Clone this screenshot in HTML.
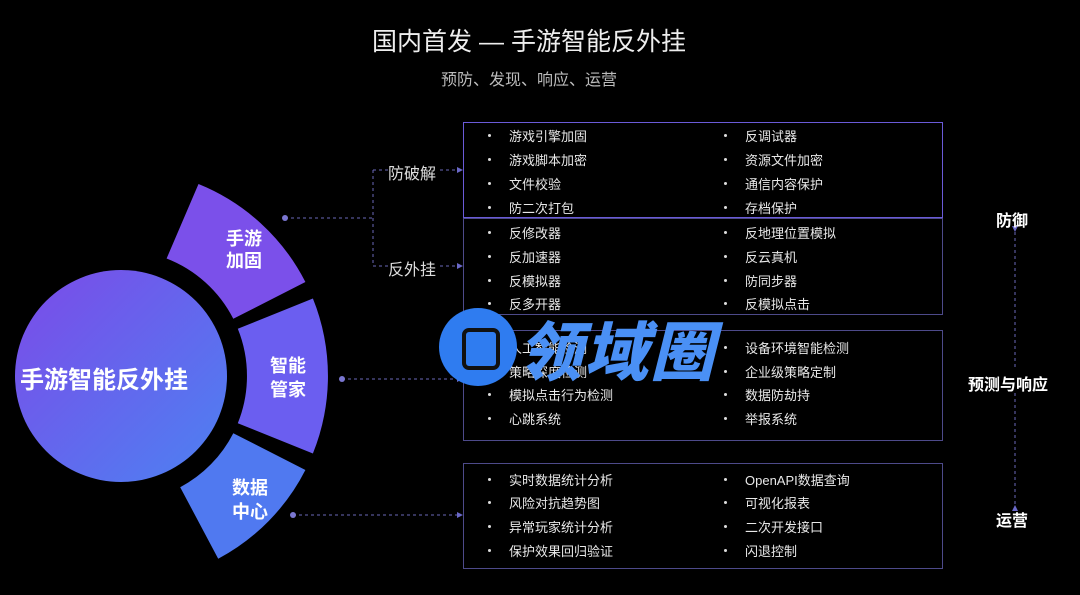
<!DOCTYPE html>
<html><head><meta charset="utf-8"><style>
body{margin:0;width:1080px;height:595px;background:#000;overflow:hidden;font-family:"Liberation Sans","Noto Sans CJK SC",sans-serif;color:#fff;position:relative}
.t{position:absolute;white-space:nowrap}
.box{position:absolute;left:463px;width:478px;border:1.5px solid #4d4a8a}
.it{position:absolute;font-size:13px;color:#e8e8e8;white-space:nowrap}
.it:before{content:"";position:absolute;left:-21px;top:8px;width:3px;height:3px;border-radius:50%;background:#ddd}
</style></head><body>
<div class="t" style="left:0;width:1058px;text-align:center;top:22px;font-size:25px;color:#eee">国内首发 — 手游智能反外挂</div>
<div class="t" style="left:0;width:1058px;text-align:center;top:66px;font-size:16px;color:#bbb">预防、发现、响应、运营</div>

<svg width="1080" height="595" style="position:absolute;left:0;top:0">
<defs>
<linearGradient id="g" x1="0" y1="0" x2="1" y2="1"><stop offset="0" stop-color="#7c4ae8"/><stop offset="1" stop-color="#4c82f2"/></linearGradient>
</defs>
<circle cx="121" cy="376" r="106" fill="url(#g)"/>
<g transform="translate(121,376)">
<path d="M45.6,-117.5 A126,126 0 0 1 112.3,-57.2 L184.4,-94 A207,207 0 0 0 77.5,-192 Z" fill="#7b50ea"/>
<path d="M116.8,-47.2 A126,126 0 0 1 116.8,47.2 L191.9,77.5 A207,207 0 0 0 191.9,-77.5 Z" fill="#6b5ef0"/>
<path d="M112.3,57.2 A126,126 0 0 1 59.2,111.2 L97.2,182.8 A207,207 0 0 0 184.4,94 Z" fill="#5079f0"/>
</g>
<g stroke="#6a68b8" stroke-width="1" stroke-dasharray="3,3" fill="none">
<path d="M285,218 H373 M373,170 V266 M373,170 H388 M373,266 H388 M440,170 H462 M440,266 H462 M342,379 H462 M293,515 H462 M1015,232 V370 M1015,393 V505"/>
</g>
<g fill="#7a76d0"><circle cx="285" cy="218" r="3"/><circle cx="342" cy="379" r="3"/><circle cx="293" cy="515" r="3"/></g>
<g fill="#6a68c8"><path d="M463,170 l-6,-3 v6z M463,266 l-6,-3 v6z M463,379 l-6,-3 v6z M463,515 l-6,-3 v6z M1015,232 l-3,-6 h6z M1015,505 l-3,6 h6z"/></g>
</svg>

<div class="t" style="left:20px;top:360px;font-size:24px;font-weight:bold">手游智能反外挂</div>
<div class="t" style="left:226px;top:228px;font-size:18px;font-weight:bold;line-height:22px;text-align:center">手游<br>加固</div>
<div class="t" style="left:270px;top:354px;font-size:18px;font-weight:bold;line-height:24px;text-align:center">智能<br>管家</div>
<div class="t" style="left:232px;top:476px;font-size:18px;font-weight:bold;line-height:24px;text-align:center">数据<br>中心</div>
<div class="t" style="left:388px;top:160px;font-size:16px;color:#ddd">防破解</div>
<div class="t" style="left:388px;top:256px;font-size:16px;color:#ddd">反外挂</div>

<div class="box" style="top:122px;height:94px;border-color:#6a5ad8"></div>
<div class="box" style="top:218px;height:95px"></div>
<div class="box" style="top:330px;height:109px"></div>
<div class="box" style="top:463px;height:104px"></div>

<div class="it" style="left:509px;top:126px">游戏引擎加固</div><div class="it" style="left:745px;top:126px">反调试器</div>
<div class="it" style="left:509px;top:150px">游戏脚本加密</div><div class="it" style="left:745px;top:150px">资源文件加密</div>
<div class="it" style="left:509px;top:174px">文件校验</div><div class="it" style="left:745px;top:174px">通信内容保护</div>
<div class="it" style="left:509px;top:198px">防二次打包</div><div class="it" style="left:745px;top:198px">存档保护</div>
<div class="it" style="left:509px;top:223px">反修改器</div><div class="it" style="left:745px;top:223px">反地理位置模拟</div>
<div class="it" style="left:509px;top:247px">反加速器</div><div class="it" style="left:745px;top:247px">反云真机</div>
<div class="it" style="left:509px;top:271px">反模拟器</div><div class="it" style="left:745px;top:271px">防同步器</div>
<div class="it" style="left:509px;top:294px">反多开器</div><div class="it" style="left:745px;top:294px">反模拟点击</div>
<div class="it" style="left:509px;top:338px">人工智能检测</div><div class="it" style="left:745px;top:338px">设备环境智能检测</div>
<div class="it" style="left:509px;top:362px">策略深度检测</div><div class="it" style="left:745px;top:362px">企业级策略定制</div>
<div class="it" style="left:509px;top:385px">模拟点击行为检测</div><div class="it" style="left:745px;top:385px">数据防劫持</div>
<div class="it" style="left:509px;top:409px">心跳系统</div><div class="it" style="left:745px;top:409px">举报系统</div>
<div class="it" style="left:509px;top:470px">实时数据统计分析</div><div class="it" style="left:745px;top:470px">OpenAPI数据查询</div>
<div class="it" style="left:509px;top:493px">风险对抗趋势图</div><div class="it" style="left:745px;top:493px">可视化报表</div>
<div class="it" style="left:509px;top:517px">异常玩家统计分析</div><div class="it" style="left:745px;top:517px">二次开发接口</div>
<div class="it" style="left:509px;top:541px">保护效果回归验证</div><div class="it" style="left:745px;top:541px">闪退控制</div>

<div class="t" style="left:996px;top:207px;font-size:16px;font-weight:bold">防御</div>
<div class="t" style="left:968px;top:371px;font-size:16px;font-weight:bold">预测与响应</div>
<div class="t" style="left:996px;top:507px;font-size:16px;font-weight:bold">运营</div>

<div style="position:absolute;left:439px;top:308px;width:78px;height:78px;border-radius:50%;background:#2f7cf0"></div>
<div style="position:absolute;left:462px;top:328px;width:30px;height:34px;border:4px solid #111;border-radius:7px"></div>
<div class="t" style="left:518px;top:302px;font-size:64px;font-weight:900;font-style:italic;color:#4a90f5;letter-spacing:2px">领域圈</div>
</body></html>
